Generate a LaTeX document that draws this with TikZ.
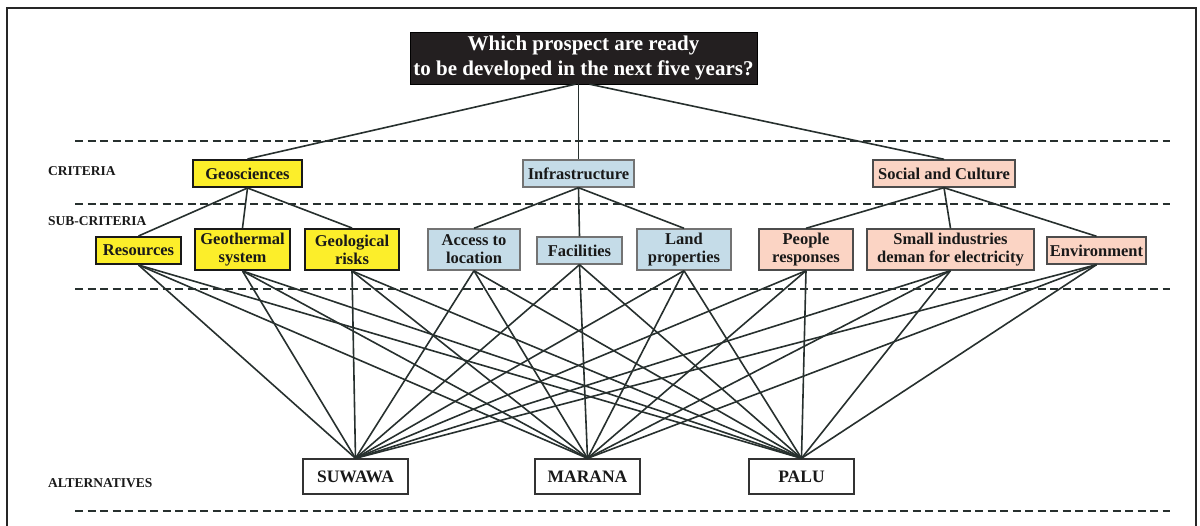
\documentclass[tikz,border=0pt]{standalone}
\usepackage{fontspec}
\setmainfont{Liberation Serif}
\begin{document}
\begin{tikzpicture}[x=1pt,y=-1pt,
  font=\bfseries,
  base/.style={draw=boxline,line width=1.4pt,inner sep=0pt,align=center,
    font=\fontsize{16.5}{18}\selectfont\bfseries,text=black!90},
  geo/.style={base,fill=geoY,draw=black!90,line width=2pt},
  infra/.style={base,fill=infB,draw=black!55},
  soc/.style={base,fill=socP,draw=black!70},
  alt/.style={base,fill=white,font=\fontsize{17.5}{20}\selectfont\bfseries},
  conn/.style={draw=linec,line width=1.6pt},
  sep/.style={draw=linec,line width=1.6pt,dash pattern=on 8pt off 4.5pt},
  lvl/.style={anchor=west,inner sep=0pt,font=\fontsize{13.5}{15}\selectfont\bfseries,text=black!90}
]
\definecolor{geoY}{HTML}{FCEE2A}
\definecolor{infB}{HTML}{C5DCE8}
\definecolor{socP}{HTML}{FBD4C4}
\definecolor{boxline}{HTML}{333333}
\definecolor{linec}{HTML}{27302E}
\definecolor{topfill}{HTML}{231F20}
\useasboundingbox (0,0) rectangle (1200,526);
% frame
\draw[line width=2pt,black!85] (7,526) -- (7,8.5) -- (1196,8.5) -- (1196,526);
% separators
\foreach \yy/\nm in {141/s1,204/s2,289/s3,511/s4}{
  \coordinate (\nm a) at (75,\yy); \coordinate (\nm b) at (1170,\yy);
  \draw[sep] (\nm a) -- (\nm b);
}
% level labels
\node[lvl] (lc) at (48,171) {CRITERIA};
\node[lvl] (ls) at (48,221) {SUB-CRITERIA};
\node[lvl] (la) at (48,483) {ALTERNATIVES};
% goal
\node[fill=topfill,draw=black,inner sep=0pt,minimum width=347pt,minimum height=52pt,
  align=center,text=white,font=\fontsize{21}{24.5}\selectfont\bfseries] (goal) at (583.5,58)
  {Which prospect are ready\\to be developed in the next five years?};
% criteria
\node[geo,minimum width=109pt,minimum height=27pt] (geo) at (247.5,173.5) {Geosciences};
\node[infra,minimum width=111pt,minimum height=27pt] (inf) at (578.5,173.5) {Infrastructure};
\node[soc,minimum width=142pt,minimum height=27pt] (soc) at (944,173.5) {Social and Culture};
% sub-criteria
\node[geo,minimum width=85pt,minimum height=27pt] (res) at (138.5,250.5) {Resources};
\node[geo,minimum width=95pt,minimum height=41pt] (gts) at (242.5,249.5) {Geothermal\\system};
\node[geo,minimum width=94pt,minimum height=41pt] (glr) at (352,249.5) {Geological\\risks};
\node[infra,minimum width=92pt,minimum height=41pt] (acc) at (474,249.5) {Access to\\location};
\node[infra,minimum width=85pt,minimum height=27pt] (fac) at (579.5,250.5) {Facilities};
\node[infra,minimum width=94pt,minimum height=41pt] (lnd) at (684,249.5) {Land\\properties};
\node[soc,minimum width=94pt,minimum height=41pt] (peo) at (806,249.5) {People\\responses};
\node[soc,minimum width=167pt,minimum height=41pt] (sml) at (950.5,249.5) {Small industries\\deman for electricity};
\node[soc,minimum width=99pt,minimum height=27pt] (env) at (1096.5,250.5) {Environment};
% alternatives
\node[alt,minimum width=105pt,minimum height=35pt] (suw) at (355.5,476.5) {SUWAWA};
\node[alt,minimum width=105pt,minimum height=35pt] (mar) at (587.5,476.5) {MARANA};
\node[alt,minimum width=105pt,minimum height=35pt] (pal) at (801.5,476.5) {PALU};
% connectors goal -> criteria
\draw[conn] (goal.south) ++(-8,0) coordinate (g1) (g1) -- (geo.north);
\draw[conn] (inf.north |- goal.south) -- (inf.north);
\draw[conn] (goal.south) ++(6,0) coordinate (g2) (g2) -- (soc.north);
% criteria -> sub-criteria
\foreach \c/\s in {geo/res,geo/gts,geo/glr,inf/acc,inf/fac,inf/lnd,soc/peo,soc/sml,soc/env}
  \draw[conn] (\c.south) -- (\s.north);
% sub-criteria -> alternatives
\foreach \s in {res,gts,glr,acc,fac,lnd,peo,sml,env}
  \foreach \a in {suw,mar,pal}
    \draw[conn] (\s.south) -- (\a.north);
\end{tikzpicture}
\end{document}
